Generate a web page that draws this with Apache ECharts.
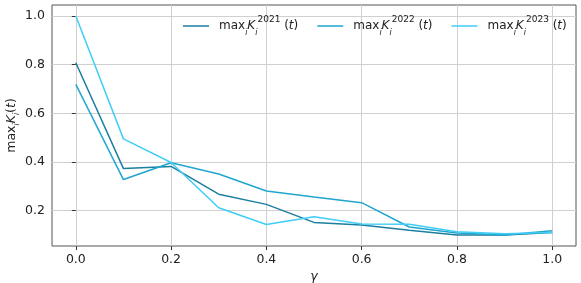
<!DOCTYPE html>
<html><head><meta charset="utf-8">
<script src="https://cdn.jsdelivr.net/npm/echarts@6/dist/echarts.min.js"></script>
<style>html,body{margin:0;padding:0;background:#fff}#c{width:581px;height:283px}</style>
</head><body><div id="c"></div>
<script>
const gammas = [0.0,0.1,0.2,0.3,0.4,0.5,0.6,0.7,0.8,0.9,1.0];
const k2021 = [0.808,0.373,0.382,0.268,0.226,0.152,0.141,0.120,0.100,0.100,0.110];
const k2022 = [0.719,0.328,0.397,0.351,0.281,0.256,0.233,0.133,0.108,0.100,0.118];
const k2023 = [1.000,0.495,0.398,0.212,0.143,0.175,0.145,0.144,0.114,0.105,0.110];
const xTicks = [0.0,0.2,0.4,0.6,0.8,1.0];
const yTicks = [0.2,0.4,0.6,0.8,1.0];
const years = ['2021','2022','2023'];
const colors = ['#1b7f9f','#1fa6cf','#40cdf7'];

const font = 'DejaVu Sans';
const chart = echarts.init(document.getElementById('c'));
const mk = (name, vals, color) => ({
  name, type:'line', symbol:'none', showSymbol:false, data: gammas.map((g,i)=>[g, vals[i]]),
  lineStyle:{color, width:1.5}, itemStyle:{color}, animation:false, z:3
});
const axisCommon = {
  axisLine:{show:false},
  axisTick:{show:true, inside:false, length:4, lineStyle:{color:'#333', width:1}},
  axisLabel:{color:'#222', fontFamily:font, fontSize:12.5},
  splitLine:{show:true, lineStyle:{color:'#d0d0d0', width:1}}
};
chart.setOption({
  animation:false,
  grid:{left:52, top:5, right:5, bottom:37, outerBoundsMode:'none', containLabel:false,
    show:true, borderColor:'#555', borderWidth:1, backgroundColor:'transparent'},
  legend:{
    left:183, top:15, width:420, padding:0, itemWidth:26, itemHeight:1.5, itemGap:19, icon:'rect',
    data: years,
    formatter: n => '{m|max}{sb|i}{k|K}{sb|i}{sp|' + n + '}{n| (}{k|t}{n|)}',
    textStyle:{fontFamily:font, color:'#222', fontSize:12, lineHeight:22,
      rich:{
        m:{fontSize:12, fontFamily:font, color:'#222', verticalAlign:'middle', padding:[0,0,0,5]},
        k:{fontSize:12, fontFamily:font, fontStyle:'italic', color:'#222', verticalAlign:'middle'},
        n:{fontSize:12, fontFamily:font, color:'#222', verticalAlign:'middle'},
        sb:{fontSize:8, fontFamily:font, fontStyle:'italic', color:'#222', verticalAlign:'bottom'},
        sp:{fontSize:9, fontFamily:font, color:'#222', verticalAlign:'top'}
      }}
  },
  xAxis:Object.assign({type:'value', min:-0.05, max:1.05,
    name:'{g|γ}', nameLocation:'middle', nameGap:24, nameMoveOverlap:false,
    nameTextStyle:{rich:{g:{fontFamily:font, fontStyle:'italic', fontSize:12.5, color:'#222'}}}
  }, axisCommon, {
    axisTick:Object.assign({}, axisCommon.axisTick, {customValues:xTicks}),
    axisLabel:Object.assign({}, axisCommon.axisLabel, {customValues:xTicks, formatter:v=>v.toFixed(1), margin:7})
  }),
  yAxis:Object.assign({type:'value', min:0.055, max:1.045,
    name:'{m|max}{sb|i}{k|K}{sb|i}{n|(}{k|t}{n|)}', nameLocation:'middle', nameGap:31, nameRotate:90, nameMoveOverlap:false,
    nameTextStyle:{lineHeight:18, rich:{
      m:{fontSize:12.5, fontFamily:font, color:'#222', verticalAlign:'middle'},
      k:{fontSize:12.5, fontFamily:font, fontStyle:'italic', color:'#222', verticalAlign:'middle'},
      n:{fontSize:12.5, fontFamily:font, color:'#222', verticalAlign:'middle'},
      sb:{fontSize:8, fontFamily:font, fontStyle:'italic', color:'#222', verticalAlign:'bottom'}
    }}
  }, axisCommon, {
    axisTick:Object.assign({}, axisCommon.axisTick, {customValues:yTicks}),
    axisLabel:Object.assign({}, axisCommon.axisLabel, {customValues:yTicks, formatter:v=>v.toFixed(1), margin:7})
  }),
  series:[mk('2021',k2021,colors[0]), mk('2022',k2022,colors[1]), mk('2023',k2023,colors[2])]
});
</script></body></html>
